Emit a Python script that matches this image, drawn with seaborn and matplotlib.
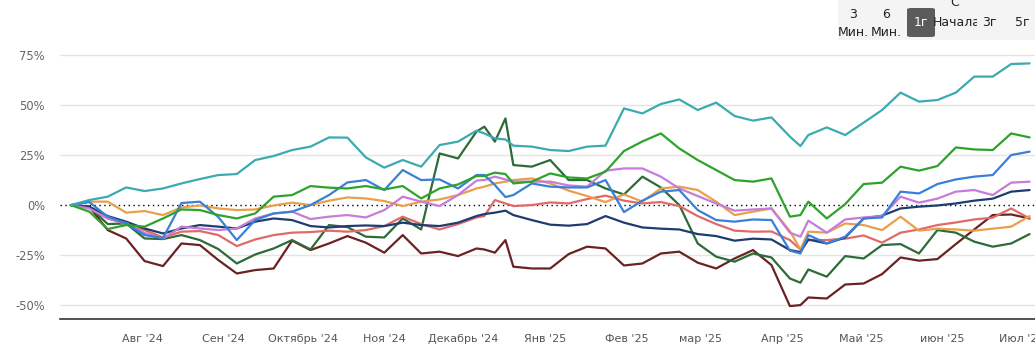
import matplotlib
matplotlib.use('Agg')
import matplotlib.pyplot as plt
import seaborn as sns
import pandas as pd
from matplotlib.patches import FancyBboxPatch, Rectangle
from matplotlib.transforms import Bbox

# ---------------- data (percent change since start) ----------------
dates = [
    "2024-07-05", "2024-07-12", "2024-07-19", "2024-07-26", "2024-08-02", "2024-08-09",
    "2024-08-16", "2024-08-23", "2024-08-30", "2024-09-06", "2024-09-13", "2024-09-20",
    "2024-09-27", "2024-10-04", "2024-10-11", "2024-10-18", "2024-10-25", "2024-11-01",
    "2024-11-08", "2024-11-15", "2024-11-22", "2024-11-29", "2024-12-06", "2024-12-09",
    "2024-12-13", "2024-12-17", "2024-12-20", "2024-12-27", "2025-01-03", "2025-01-10",
    "2025-01-17", "2025-01-24", "2025-01-31", "2025-02-07", "2025-02-14", "2025-02-21",
    "2025-02-28", "2025-03-07", "2025-03-14", "2025-03-21", "2025-03-28", "2025-04-04",
    "2025-04-08", "2025-04-11", "2025-04-18", "2025-04-25", "2025-05-02", "2025-05-09",
    "2025-05-16", "2025-05-23", "2025-05-30", "2025-06-06", "2025-06-13", "2025-06-20",
    "2025-06-27", "2025-07-04",
]

teal = [0, 2.5, 4.2, 8.8, 7.0, 8.3, 10.8, 13.0, 15.0, 15.5, 22.5, 24.5, 27.5, 29.2,
        33.8, 33.7, 23.8, 18.7, 22.5, 19.2, 30.0, 31.7, 37.2, 35.8, 33.3, 32.8, 29.7,
        29.2, 27.5, 27.0, 29.2, 29.7, 48.3, 45.8, 50.5, 52.8, 47.5, 51.2, 44.5, 42.2,
        43.8, 34.2, 29.5, 35.0, 38.8, 35.0, 41.2, 47.5, 56.2, 51.7, 52.5, 56.2, 64.2,
        64.2, 70.5, 70.8]

green = [0, -3.3, -12.0, -10.0, -10.8, -6.7, -2.2, -2.5, -5.0, -6.7, -4.2, 4.2, 5.0,
         9.5, 8.7, 8.3, 9.5, 7.8, 9.5, 3.3, 8.3, 10.3, 14.5, 14.5, 16.2, 15.5, 10.8,
         11.7, 15.8, 13.8, 13.3, 16.7, 27.0, 31.8, 35.8, 28.3, 22.5, 17.5, 12.5, 11.7,
         13.3, -5.8, -5.0, 1.7, -6.7, 0.5, 10.5, 11.2, 19.2, 17.2, 19.5, 28.8, 27.8,
         27.5, 35.8, 33.8]

blue = [0, 1.5, -5.8, -9.2, -15.0, -16.5, 1.0, 1.7, -6.0, -17.5, -7.5, -4.2, -3.3,
        0.0, 5.0, 11.3, 12.5, 7.5, 17.5, 12.5, 12.8, 8.3, 15.0, 15.0, 10.0, 4.0, 5.0,
        10.8, 9.2, 8.8, 8.8, 12.5, -3.5, 2.2, 6.7, 7.5, -2.5, -7.5, -8.3, -7.2, -7.5,
        -22.8, -24.2, -15.0, -19.2, -15.8, -6.7, -6.2, 6.7, 5.8, 10.5, 12.8, 14.2,
        15.0, 25.0, 26.7]

orange = [0, 1.7, 1.7, -3.8, -3.0, -5.0, -1.2, -0.2, -1.7, -2.5, -2.2, -0.2, 1.2,
          0.0, 2.2, 3.8, 3.3, 2.0, -0.5, 1.7, 2.8, 5.0, 8.3, 9.2, 10.8, 11.7, 12.5,
          13.3, 10.8, 7.2, 4.5, 1.5, 5.3, 1.7, 8.3, 9.2, 7.5, 1.7, -5.0, -3.3, -1.7,
          -13.0, -22.2, -13.3, -13.8, -9.2, -10.0, -12.5, -5.8, -12.8, -11.8, -12.2,
          -12.8, -11.8, -10.8, -5.5]

violet = [0, -1.7, -6.7, -9.0, -14.0, -16.7, -10.8, -11.7, -12.5, -11.7, -6.7, -4.2,
          -3.3, -7.0, -5.8, -5.0, -6.2, -2.5, 4.2, 1.7, -0.5, 5.0, 12.2, 12.5, 14.2,
          12.8, 11.7, 11.7, 11.7, 9.8, 9.2, 17.2, 18.3, 18.3, 14.2, 8.3, 4.5, 0.8,
          -2.8, -2.2, -1.7, -13.8, -15.8, -7.8, -13.8, -7.2, -6.2, -5.5, 4.2, 1.2, 3.2,
          6.7, 7.5, 5.0, 11.2, 11.7]

navy = [0, -0.8, -5.5, -8.3, -11.7, -14.2, -11.7, -10.0, -10.8, -11.7, -8.3, -6.7,
        -7.5, -10.5, -11.2, -10.5, -10.2, -10.5, -8.8, -10.0, -10.5, -8.8, -5.5, -4.5,
        -3.8, -2.8, -5.0, -7.5, -9.8, -10.3, -9.5, -5.5, -8.8, -11.2, -11.8, -12.2,
        -14.5, -15.5, -17.8, -16.8, -17.2, -22.5, -23.5, -17.2, -19.2, -16.2, -6.7,
        -5.3, -1.7, -0.8, -0.2, 0.8, 2.2, 3.2, 6.7, 7.5]

salmon = [0, -1.2, -6.7, -9.5, -12.5, -16.2, -13.3, -13.0, -15.0, -20.5, -17.2, -15.0,
          -13.8, -13.5, -12.8, -13.3, -12.5, -10.5, -5.8, -9.5, -12.2, -9.5, -6.2, -5.5,
          2.5, 0.8, -0.5, 0.0, 1.3, 0.8, 3.0, 4.7, 2.2, 0.8, 1.5, -0.5, -5.5, -9.5,
          -12.8, -13.3, -13.2, -17.5, -22.2, -17.5, -17.5, -16.8, -15.2, -18.8, -13.8,
          -12.2, -10.0, -8.7, -7.2, -6.3, -1.7, -6.7]

darkgreen = [0, -0.8, -9.5, -9.2, -16.7, -17.0, -15.0, -17.5, -22.0, -29.2, -24.7,
             -21.7, -17.5, -22.2, -10.0, -11.0, -15.8, -16.2, -6.7, -12.2, 25.8, 23.3,
             36.7, 39.2, 31.7, 43.3, 20.0, 19.2, 22.5, 12.5, 12.5, 8.3, 5.3, 14.2, 8.8,
             0.0, -19.2, -25.8, -28.3, -24.2, -26.2, -36.7, -38.8, -32.2, -35.8, -25.5,
             -26.7, -20.0, -19.5, -24.2, -12.5, -13.8, -18.3, -20.8, -19.2, -14.5]

maroon = [0, -0.8, -12.5, -16.7, -28.0, -30.5, -19.2, -20.0, -27.5, -34.2, -32.5,
          -31.7, -17.8, -22.5, -19.2, -15.5, -18.8, -23.8, -15.0, -24.2, -23.3, -25.5,
          -21.7, -22.2, -23.8, -17.5, -30.8, -31.7, -31.7, -24.5, -20.8, -21.7, -30.2,
          -29.2, -24.2, -23.3, -28.8, -31.7, -26.7, -22.5, -30.0, -50.5, -50.0, -46.2,
          -46.7, -39.7, -39.2, -34.5, -26.2, -27.8, -27.0, -19.5, -12.2, -5.0, -4.7,
          -6.7]

series_order = ["maroon", "darkgreen", "salmon", "orange", "navy", "violet", "blue",
                "green", "teal"]
palette = {
    "teal": "#3aabb0", "green": "#2ea32a", "blue": "#3a7fd8", "violet": "#c67cd8",
    "navy": "#1f3c70", "salmon": "#e06a68", "orange": "#e8a04a",
    "darkgreen": "#2d6b38", "maroon": "#6b2222",
}

tick_dates = ["2024-08-01", "2024-09-01", "2024-10-01", "2024-11-01", "2024-12-01",
              "2025-01-01", "2025-02-01", "2025-03-01", "2025-04-01", "2025-05-01",
              "2025-06-01", "2025-07-01"]
tick_labels = ["Авг '24", "Сен '24", "Октябрь '24", "Ноя '24", "Декабрь '24",
               "Янв '25", "Фев '25", "мар '25", "Апр '25", "Май '25", "июн '25",
               "Июл '25"]
y_ticks = [-50, -25, 0, 25, 50, 75]

buttons = [("3", 853, 15), ("Мин.", 853, 32), ("6", 886, 15), ("Мин.", 886, 32),
           ("С", 955, 3), ("3г", 989, 23), ("5г", 1022, 23)]

# ---------------- build frame ----------------
df = pd.DataFrame({"date": pd.to_datetime(dates), "teal": teal, "green": green,
                   "blue": blue, "orange": orange, "violet": violet, "navy": navy,
                   "salmon": salmon, "darkgreen": darkgreen, "maroon": maroon})
long = df.melt(id_vars="date", var_name="series", value_name="value")

sns.set_theme(style="white")
plt.rcParams["font.family"] = ["DejaVu Sans"]

W, H = 1035, 353
fig = plt.figure(figsize=(W / 100, H / 100), dpi=100)
fig.patch.set_facecolor("white")
ax = fig.add_axes([60.3 / W, 1 - 318.5 / H, 985.1 / W, (318.5 - 40) / H])

for v in y_ticks:
    if v != 0:
        ax.axhline(v, color="#e4e4e4", lw=1, zorder=0)
ax.axhline(0, color="black", lw=1, ls=(0, (1, 2.5)), zorder=1)

sns.lineplot(data=long, x="date", y="value", hue="series", hue_order=series_order,
             palette=palette, linewidth=1.6, legend=False, estimator=None, ax=ax,
             zorder=2)

ax.set_xlim(pd.Timestamp("2024-07-01"), pd.Timestamp("2025-07-10"))
ax.set_ylim(-56.7, 82.5)
ax.set_xticks(pd.to_datetime(tick_dates))
ax.set_xticklabels(tick_labels)
ax.set_yticks(y_ticks)
ax.set_yticklabels([f"{v}%" for v in y_ticks])
ax.set_xlabel("")
ax.set_ylabel("")
for s in ["left", "right", "top"]:
    ax.spines[s].set_visible(False)
ax.spines["bottom"].set_color("#333333")
ax.spines["bottom"].set_linewidth(1.2)
ax.tick_params(axis="x", length=6, width=1, color="#333333", pad=5,
               labelsize=8, labelcolor="#555555")
ax.tick_params(axis="y", length=0, pad=11, labelsize=8.3, labelcolor="#666666")
ax.grid(False)

# ---------------- period selector (top right) ----------------
fig.add_artist(Rectangle((838 / W, 1 - 40 / H), (W - 838) / W, 40 / H,
                         transform=fig.transFigure, facecolor="#f4f4f4",
                         edgecolor="none", zorder=0))
fig.add_artist(FancyBboxPatch((907 / W, 1 - 37 / H), 28 / W, 29 / H,
                              boxstyle="round,pad=0,rounding_size=0.004",
                              transform=fig.transFigure, facecolor="#5b5b5b",
                              edgecolor="none", zorder=1))
fig.text(921 / W, 1 - 23 / H, "1г", color="white", fontsize=9, ha="center",
         va="center", zorder=2)
for txt, px, py in buttons:
    fig.text(px / W, 1 - py / H, txt, color="#222222", fontsize=9, ha="center",
             va="center", zorder=2)
t = fig.text(933 / W, 1 - 23 / H, "Начала", color="#222222", fontsize=9,
             ha="left", va="center", zorder=2)
t.set_clip_on(True)
t.set_clip_box(Bbox.from_extents(920, 0, 977, H))

fig.savefig("out.png", dpi=100)
